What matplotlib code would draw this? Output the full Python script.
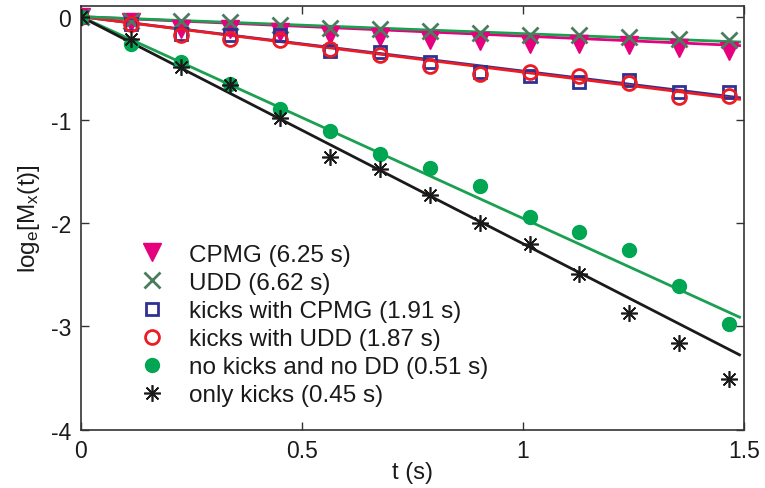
import matplotlib
matplotlib.use("Agg")
import matplotlib.pyplot as plt

plt.rcParams['font.family'] = ['Liberation Sans', 'DejaVu Sans']
plt.rcParams['mathtext.fontset'] = 'custom'
plt.rcParams['mathtext.rm'] = 'Liberation Sans'
plt.rcParams['mathtext.it'] = 'Liberation Sans'

# time samples (s)
t = [0.0, 0.113, 0.226, 0.338, 0.451, 0.564, 0.677, 0.790, 0.902, 1.015,
     1.128, 1.241, 1.354, 1.466]

cpmg = [0.0, -0.05, -0.12, -0.12, -0.15, -0.18, -0.20, -0.225, -0.24, -0.26,
        -0.26, -0.27, -0.30, -0.33]
udd = [0.0, -0.04, -0.04, -0.055, -0.08, -0.11, -0.12, -0.135, -0.16, -0.18,
       -0.18, -0.20, -0.215, -0.23]
kicks_cpmg = [0.0, -0.07, -0.17, -0.18, -0.18, -0.33, -0.345, -0.44, -0.54, -0.57,
              -0.63, -0.61, -0.73, -0.73]
kicks_udd = [0.0, -0.07, -0.18, -0.22, -0.23, -0.31, -0.37, -0.48, -0.56, -0.54,
             -0.57, -0.645, -0.78, -0.765]
no_kicks = [0.0, -0.26, -0.44, -0.65, -0.89, -1.11, -1.33, -1.465, -1.64, -1.94,
            -2.09, -2.255, -2.61, -2.98]
only_kicks = [0.0, -0.216, -0.49, -0.66, -0.98, -1.36, -1.48, -1.73, -2.0, -2.2,
              -2.49, -2.87, -3.16, -3.51]

# fitted lines: start and end points
fit_t = [0.0, 1.49]
fit_cpmg = [0.0, -0.28]
fit_udd = [0.0, -0.245]
fit_kicks_cpmg = [0.0, -0.785]
fit_kicks_udd = [0.0, -0.80]
fit_no_kicks = [0.0, -2.91]
fit_only_kicks = [0.0, -3.275]

labels = ['CPMG (6.25 s)', 'UDD (6.62 s)', 'kicks with CPMG (1.91 s)',
          'kicks with UDD (1.87 s)', 'no kicks and no DD (0.51 s)',
          'only kicks (0.45 s)']
xticks = [0, 0.5, 1, 1.5]
xticklabels = ['0', '0.5', '1', '1.5']
yticks = [-4, -3, -2, -1, 0]
yticklabels = ['-4', '-3', '-2', '-1', '0']

MAG = '#e6007e'
XGRN = '#4a7d5e'
LGRN = '#1aa050'
BLUE = '#2e3192'
RED = '#ed1c24'
GRN = '#00a651'
BLK = '#1a1a1a'

fig = plt.figure(figsize=(7.65, 4.89), dpi=100)
ax = fig.add_axes([0.1055, 0.1192, 0.867, 0.8658])

lw = 2.0
ax.plot(fit_t, fit_kicks_cpmg, color=BLUE, lw=lw, zorder=2)
ax.plot(fit_t, fit_kicks_udd, color=RED, lw=lw, zorder=2)
ax.plot(fit_t, fit_cpmg, color=MAG, lw=lw, zorder=2)
ax.plot(fit_t, fit_udd, color=LGRN, lw=lw, zorder=2)
ax.plot(fit_t, fit_no_kicks, color=LGRN, lw=lw, zorder=2)
ax.plot(fit_t, fit_only_kicks, color=BLK, lw=lw, zorder=2)

h1, = ax.plot(t, cpmg, 'v', color=MAG, ms=13, mec=MAG, ls='none', zorder=3, label=labels[0])
h2, = ax.plot(t, udd, 'x', color=XGRN, ms=11, mew=2, ls='none', zorder=3, label=labels[1])
h3, = ax.plot(t, kicks_cpmg, 's', mfc='none', mec=BLUE, ms=9, mew=2, ls='none', zorder=3, label=labels[2])
h4, = ax.plot(t, kicks_udd, 'o', mfc='none', mec=RED, ms=10, mew=2, ls='none', zorder=3, label=labels[3])
h5, = ax.plot(t, no_kicks, 'o', color=GRN, mec=GRN, ms=10, ls='none', zorder=3, label=labels[4])
h6, = ax.plot(t, only_kicks, marker=(8, 2, 0), color=BLK, ms=12, mew=1.2, ls='none', zorder=3, label=labels[5])

ax.set_xlim(0, 1.5)
ax.set_ylim(-4, 0.1)
ax.set_xticks(xticks)
ax.set_xticklabels(xticklabels)
ax.set_yticks(yticks)
ax.set_yticklabels(yticklabels)
ax.tick_params(direction='in', top=True, right=True, labelsize=16.5, length=6,
               width=1, colors='#333333', labelcolor='#1a1a1a', pad=7)
for s in ax.spines.values():
    s.set_color('#333333')
    s.set_linewidth(1.2)

ax.set_xlabel('t (s)', fontsize=17, color='#1a1a1a', labelpad=-1)
ax.set_ylabel(r'$\mathregular{log_e[M_x(t)]}$', fontsize=17.5, color='#1a1a1a', labelpad=6)

leg = ax.legend(handles=[h1, h2, h3, h4, h5, h6], loc='upper left',
                bbox_to_anchor=(0.063, 0.462), frameon=False, fontsize=17.5,
                handlelength=1.6, handletextpad=0.75, labelspacing=0.25,
                borderaxespad=0, numpoints=1)
for txt in leg.get_texts():
    txt.set_color('#1a1a1a')

fig.savefig('out.png', dpi=100)
